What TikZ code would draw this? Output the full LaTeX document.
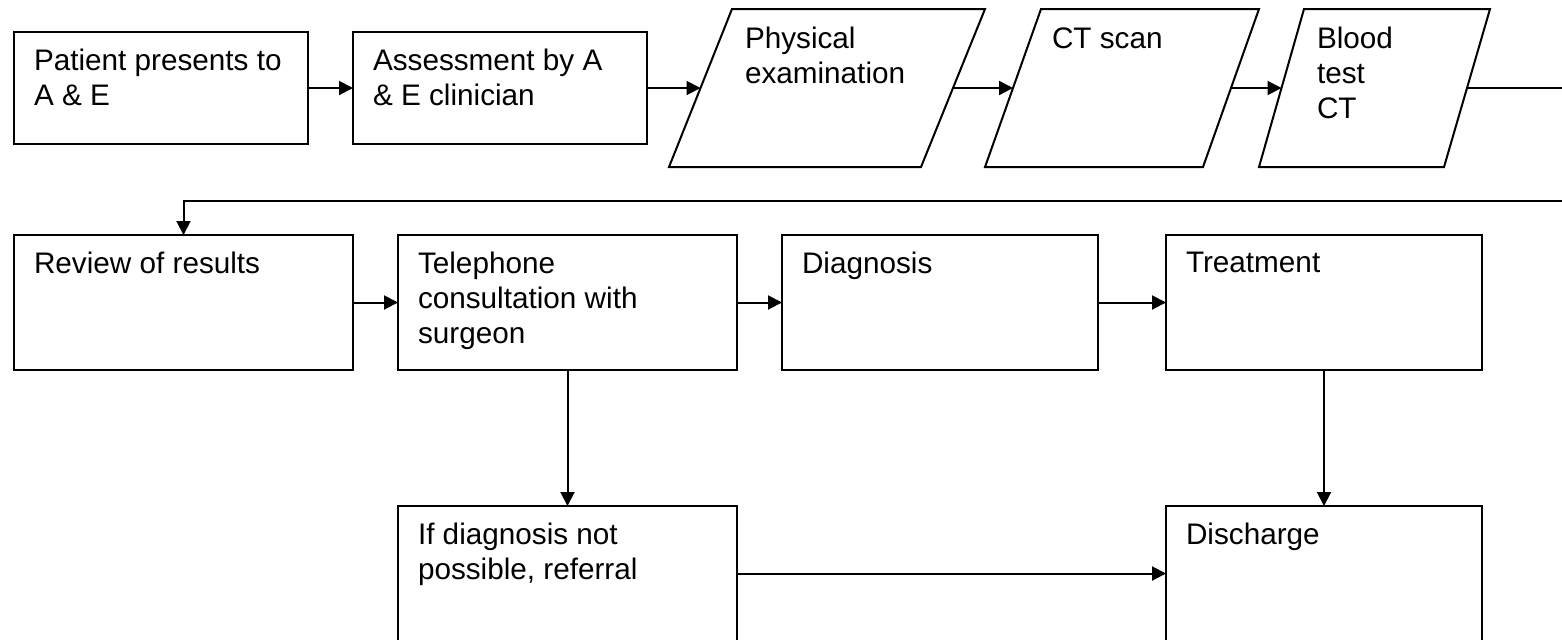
\documentclass[tikz,border=0pt]{standalone}
\usepackage{fontspec}
\setmainfont{Liberation Sans}
\usetikzlibrary{arrows.meta}

\begin{document}
\begin{tikzpicture}[
  x=0.5pt, y=-0.5pt,
  font=\fontsize{14.85pt}{17.5pt}\selectfont,
  stepbox/.style={draw=black, line width=1pt, inner sep=0pt, outer sep=0pt,
    anchor=north west},
  smallbox/.style={stepbox, minimum width=147pt, minimum height=56pt},
  widebox/.style={stepbox, minimum width=169.5pt, minimum height=67.5pt},
  midbox/.style={stepbox, minimum width=158pt, minimum height=67.5pt},
  slanted/.style={draw=black, line width=1pt, line join=miter},
  txt/.style={anchor=north west, inner sep=0pt, outer sep=0pt, align=left,
    text=black},
  flow/.style={draw=black, line width=1pt, -{Triangle[length=7pt,width=7pt]}},
  plain/.style={draw=black, line width=1pt},
]
\useasboundingbox (0,0) rectangle (1562,639);
\clip (0,0) rectangle (1562,639);

% ---- first row: arrival and investigations ----
\node[smallbox] (arrive) at (14,32) {};
\node[txt] (arriveT) at (34,49) {Patient presents to\\A \& E};

\node[smallbox] (assess) at (353,32) {};
\node[txt] (assessT) at (373,49) {Assessment by A\\\& E clinician};

% parallelogram: physical examination
\coordinate (exA) at (732,9);  \coordinate (exB) at (985,9);
\coordinate (exC) at (921,167); \coordinate (exD) at (669,167);
\coordinate (exW) at (700.5,88); \coordinate (exE) at (953,88);
\draw[slanted] (exA) -- (exB) -- (exC) -- (exD) -- cycle;
\node[txt] (examT) at (745,27) {Physical\\examination};

% parallelogram: CT scan
\coordinate (ctA) at (1041,9);  \coordinate (ctB) at (1259,9);
\coordinate (ctC) at (1203,167); \coordinate (ctD) at (985,167);
\coordinate (ctW) at (1013,88); \coordinate (ctE) at (1231,88);
\draw[slanted] (ctA) -- (ctB) -- (ctC) -- (ctD) -- cycle;
\node[txt] (ctT) at (1052,28) {CT scan};

% parallelogram: blood test
\coordinate (blA) at (1304,9);  \coordinate (blB) at (1490,9);
\coordinate (blC) at (1444,167); \coordinate (blD) at (1259,167);
\coordinate (blW) at (1281.5,88); \coordinate (blE) at (1467,88);
\draw[slanted] (blA) -- (blB) -- (blC) -- (blD) -- cycle;
\node[txt] (bloodT) at (1317,27) {Blood\\test\\CT};

% ---- second row ----
\node[widebox] (review) at (14,235) {};
\node[txt] (reviewT) at (34,252) {Review of results};

\node[widebox] (phone) at (398,235) {};
\node[txt] (phoneT) at (418,252) {Telephone\\consultation with\\surgeon};

\node[midbox] (diag) at (782,235) {};
\node[txt] (diagT) at (802,252) {Diagnosis};

\node[midbox] (treat) at (1166,235) {};
\node[txt] (treatT) at (1186,252) {Treatment};

% ---- third row ----
\node[widebox] (refer) at (398,506) {};
\node[txt] (referT) at (418,523) {If diagnosis not\\possible, referral};

\node[midbox] (disch) at (1166,506) {};
\node[txt] (dischT) at (1186,523) {Discharge};

% ---- connectors ----
\draw[flow] (arrive.east) -- (assess.west);
\draw[flow] (assess.east) -- (exW);
\draw[flow] (exE) -- (ctW);
\draw[flow] (ctE) -- (blW);

\coordinate (outR) at (1562,88);
\coordinate (backR) at (1562,201);
\draw[plain] (blE) -- (outR);
\draw[flow] (backR) -- (review.north |- backR) -- (review.north);

\draw[flow] (review.east) -- (phone.west);
\draw[flow] (phone.east) -- (diag.west);
\draw[flow] (diag.east) -- (treat.west);

\draw[flow] (phone.south) -- (refer.north);
\draw[flow] (treat.south) -- (disch.north);
\draw[flow] (refer.east) -- (disch.west);
\end{tikzpicture}
\end{document}
